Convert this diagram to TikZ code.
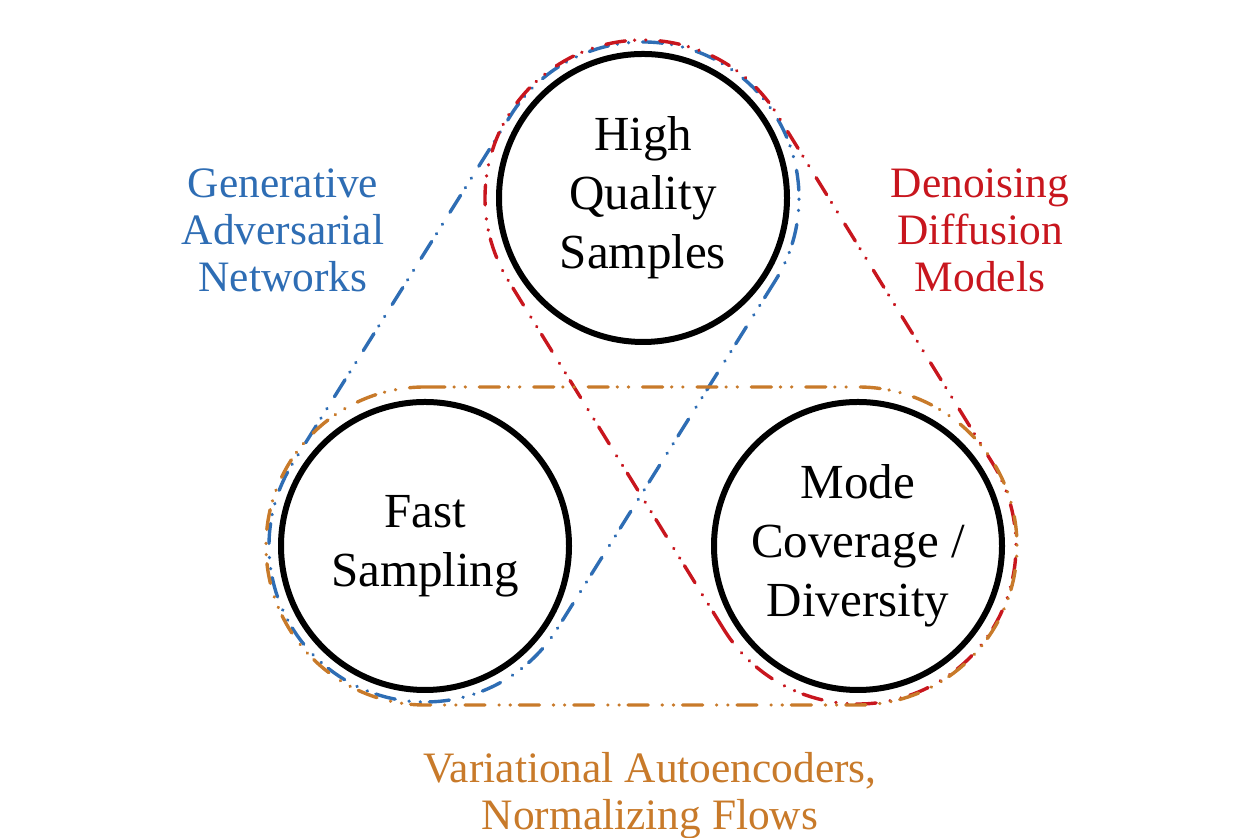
\documentclass[tikz,border=0pt]{standalone}
\usepackage{fontspec}
\setmainfont{Liberation Serif}
\usetikzlibrary{calc}
\definecolor{ganblue}{HTML}{2E6DB4}
\definecolor{ddmred}{HTML}{C8161E}
\definecolor{vaeorange}{HTML}{C87A2A}
\tikzset{
  property/.style={circle, draw=black, line width=3pt, minimum size=144pt,
    inner sep=0pt, align=center, font=\fontsize{24.5}{29.5}\selectfont},
  family/.style={align=center, font=\fontsize{21.7}{23.5}\selectfont},
  hull/.style={line width=1.7pt, line cap=round,
    dash pattern=on 10pt off 4.5pt on 0.1pt off 5.5pt on 0.1pt off 7pt}
}
% stadium-shaped hull around two named nodes, radius #3
\newcommand\hullpath[3]{%
  let \p1=(#1.center), \p2=(#2.center), \n1={atan2(\y2-\y1,\x2-\x1)} in
  ($(#1.center)+(\n1+90:#3)$) -- ($(#2.center)+(\n1+90:#3)$)
  arc[start angle=\n1+90, end angle=\n1-90, radius=#3]
  -- ($(#1.center)+(\n1-90:#3)$)
  arc[start angle=\n1-90, end angle=\n1-270, radius=#3] -- cycle}
\begin{document}
\begin{tikzpicture}[x=0.5pt, y=0.5pt]
  \useasboundingbox (0,0) rectangle (1247,838);
  \fill[white] (0,0) rectangle (1247,838);

  % the three desired properties
  \node[property] (quality) at (643,640) {High\\Quality\\Samples};
  \node[property] (fast) at (425,292) {Fast\\Sampling};
  \node[property] (mode) at (858,292) {Mode\\Coverage /\\Diversity};

  % model families covering two properties each
  \draw[hull, ganblue] \hullpath{quality}{fast}{78pt};
  \draw[hull, ddmred] \hullpath{mode}{quality}{79pt};
  \draw[hull, vaeorange] \hullpath{fast}{mode}{79.5pt};

  % family labels
  \node[family, text=ganblue] (gan) at (283,608) {Generative\\Adversarial\\Networks};
  \node[family, text=ddmred] (ddm) at (980,608) {Denoising\\Diffusion\\Models};
  \node[family, text=vaeorange] (vae) at (650,42) {Variational Autoencoders,\\Normalizing Flows};
\end{tikzpicture}
\end{document}
